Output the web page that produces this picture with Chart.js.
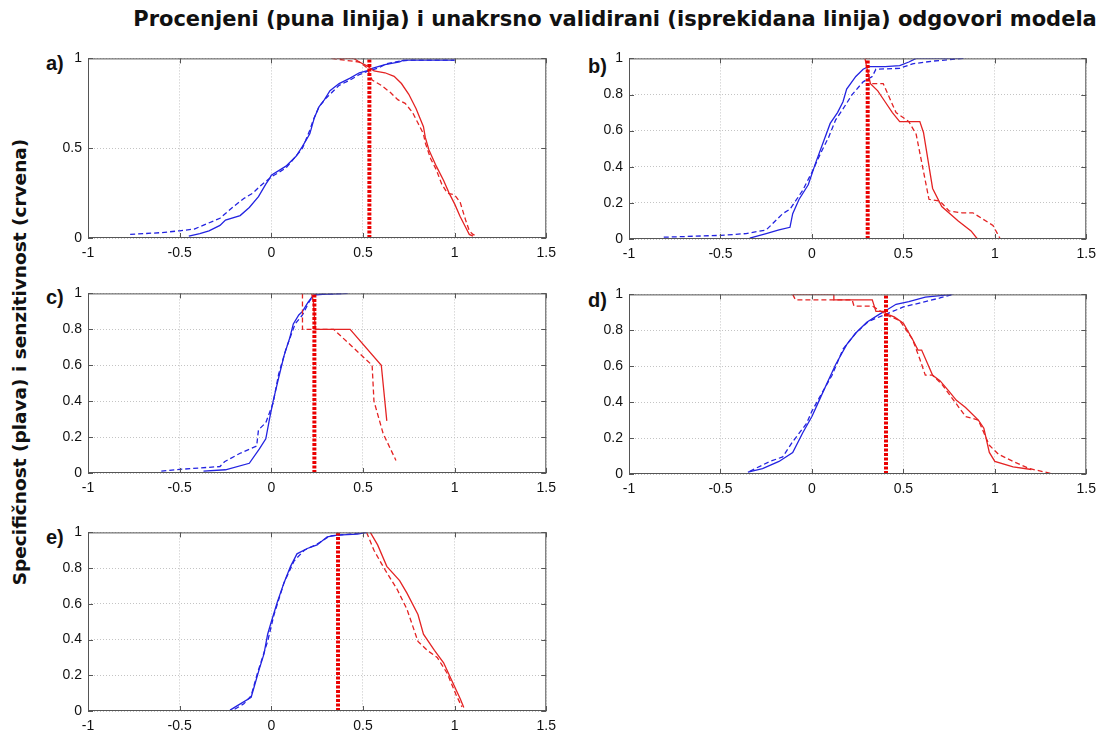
<!DOCTYPE html>
<html>
<head>
<meta charset="utf-8">
<title>Specificnost i senzitivnost</title>
<script src="https://cdn.jsdelivr.net/npm/chart.js@4.4.1/dist/chart.umd.min.js"></script>
<style>
  body { margin: 0; background: #fff; width: 1112px; height: 733px; position: relative; overflow: hidden; }
  .box { position: absolute; }
  .title { position: absolute; left: 0; width: 1230px; top: 7px; text-align: center;
           font: bold 21px "DejaVu Sans", sans-serif; color: #111; }
  .ylab { position: absolute; left: 19px; top: 362px; transform: translate(-50%, -50%) rotate(-90deg);
          white-space: nowrap; font: bold 18.5px "DejaVu Sans", sans-serif; color: #111; }
  .plab { position: absolute; font: bold 20px "Liberation Sans", Arial, sans-serif; color: #111; }
</style>
</head>
<body>
<div class="title">Procenjeni (puna linija) i unakrsno validirani (isprekidana linija) odgovori modela</div>
<div class="ylab">Specifičnost (plava) i senzitivnost (crvena)</div>
<div class="plab" style="left:46px;top:52px">a)</div>
<div class="plab" style="left:588px;top:55px">b)</div>
<div class="plab" style="left:46px;top:286px">c)</div>
<div class="plab" style="left:588px;top:289px">d)</div>
<div class="plab" style="left:46px;top:526px">e)</div>

<script>
// x ticks shared by all panels, y ticks differ for panel a
const xTicks = [-1, -0.5, 0, 0.5, 1, 1.5];
const yTicksA = [0, 0.5, 1];
const yTicks = [0, 0.2, 0.4, 0.6, 0.8, 1];

// a)
const aBlueFit = [[-0.45,0.01],[-0.39,0.025],[-0.34,0.04],[-0.28,0.07],[-0.25,0.1],[-0.17,0.125],[-0.12,0.17],[-0.07,0.23],[-0.03,0.3],[-0.01,0.33],[0.0,0.35],[0.08,0.4],[0.135,0.455],[0.17,0.51],[0.21,0.58],[0.235,0.67],[0.26,0.73],[0.29,0.77],[0.32,0.82],[0.37,0.86],[0.43,0.89],[0.48,0.92],[0.52,0.93],[0.55,0.945],[0.62,0.965],[0.7,0.98],[0.72,0.99],[1.0,0.99]];
const aBlueCv = [[-0.77,0.02],[-0.6,0.03],[-0.5,0.04],[-0.42,0.05],[-0.35,0.08],[-0.28,0.11],[-0.2,0.18],[-0.15,0.22],[-0.1,0.25],[-0.06,0.29],[0.0,0.34],[0.08,0.39],[0.13,0.45],[0.17,0.5],[0.21,0.6],[0.23,0.66],[0.26,0.73],[0.3,0.78],[0.37,0.85],[0.43,0.88],[0.48,0.91],[0.53,0.93],[0.58,0.945],[0.63,0.97],[0.7,0.985],[0.75,0.99],[1.0,0.99]];
const aRedFit = [[0.36,1],[0.45,1],[0.48,0.98],[0.52,0.96],[0.56,0.93],[0.62,0.92],[0.67,0.9],[0.71,0.86],[0.75,0.8],[0.79,0.72],[0.81,0.67],[0.83,0.62],[0.84,0.56],[0.86,0.49],[0.9,0.4],[0.94,0.32],[0.97,0.25],[1.0,0.19],[1.03,0.12],[1.06,0.06],[1.08,0.02],[1.1,0.01]];
const aRedCv = [[0.33,1],[0.4,0.99],[0.48,0.98],[0.52,0.95],[0.55,0.88],[0.6,0.85],[0.65,0.81],[0.69,0.77],[0.73,0.75],[0.77,0.7],[0.8,0.64],[0.83,0.58],[0.84,0.53],[0.87,0.44],[0.9,0.38],[0.93,0.3],[0.96,0.25],[1.0,0.24],[1.03,0.2],[1.06,0.1],[1.08,0.04],[1.1,0.02],[1.12,0.01]];
const aCut = 0.535;

// b)
const bBlueFit = [[-0.34,0.005],[-0.25,0.03],[-0.18,0.05],[-0.12,0.065],[-0.105,0.14],[-0.07,0.22],[-0.02,0.3],[0.02,0.42],[0.06,0.53],[0.1,0.64],[0.14,0.7],[0.17,0.76],[0.19,0.83],[0.24,0.9],[0.28,0.94],[0.31,0.955],[0.4,0.955],[0.48,0.96],[0.53,0.98],[0.57,1.0],[0.83,1.0]];
const bBlueCv = [[-0.81,0.01],[-0.5,0.02],[-0.36,0.03],[-0.25,0.05],[-0.16,0.14],[-0.12,0.165],[-0.05,0.27],[0.0,0.37],[0.05,0.48],[0.09,0.56],[0.13,0.66],[0.17,0.72],[0.22,0.8],[0.28,0.87],[0.33,0.9],[0.35,0.94],[0.48,0.945],[0.55,0.97],[0.66,0.985],[0.83,1.0]];
const bRedFit = [[0.29,1.0],[0.3,0.95],[0.32,0.86],[0.36,0.82],[0.4,0.76],[0.44,0.7],[0.48,0.65],[0.59,0.65],[0.61,0.59],[0.66,0.28],[0.71,0.18],[0.8,0.1],[0.87,0.045],[0.905,0]];
const bRedCv = [[0.33,0.86],[0.39,0.86],[0.46,0.7],[0.53,0.65],[0.57,0.58],[0.64,0.22],[0.7,0.21],[0.75,0.155],[0.82,0.145],[0.88,0.145],[0.99,0.075],[1.03,0.0]];
const bCut = 0.305;

// c)
const cBlueFit = [[-0.37,0.01],[-0.25,0.018],[-0.12,0.054],[-0.065,0.134],[-0.03,0.19],[-0.01,0.3],[0.01,0.4],[0.04,0.53],[0.07,0.655],[0.1,0.75],[0.12,0.83],[0.15,0.88],[0.17,0.9],[0.2,0.95],[0.23,0.99],[0.28,0.995],[0.42,1.0]];
const cBlueCv = [[-0.6,0.01],[-0.5,0.02],[-0.28,0.036],[-0.255,0.063],[-0.17,0.11],[-0.08,0.15],[-0.07,0.24],[-0.03,0.28],[0.01,0.39],[0.04,0.55],[0.08,0.69],[0.13,0.83],[0.17,0.88],[0.21,0.96],[0.24,0.995],[0.41,1.0]];
const cRedFit = [[0.22,1.0],[0.23,0.95],[0.24,0.8],[0.43,0.8],[0.6,0.6],[0.63,0.29]];
const cRedCv = [[0.17,1.0],[0.17,0.8],[0.34,0.8],[0.55,0.6],[0.56,0.4],[0.61,0.22],[0.68,0.07]];
const cCut = 0.235;

// d)
const dBlueFit = [[-0.35,0.01],[-0.27,0.03],[-0.18,0.07],[-0.105,0.12],[-0.05,0.23],[0.0,0.32],[0.04,0.41],[0.08,0.5],[0.13,0.61],[0.19,0.72],[0.24,0.785],[0.3,0.845],[0.37,0.89],[0.405,0.91],[0.46,0.945],[0.53,0.96],[0.62,0.985],[0.77,1.0]];
const dBlueCv = [[-0.34,0.015],[-0.23,0.07],[-0.16,0.095],[-0.105,0.18],[-0.03,0.28],[0.0,0.35],[0.06,0.46],[0.11,0.55],[0.17,0.695],[0.24,0.785],[0.31,0.85],[0.405,0.89],[0.5,0.93],[0.62,0.96],[0.7,0.98],[0.77,1.0]];
const dRedFit = [[-0.105,1.0],[0.12,1.0],[0.12,0.97],[0.33,0.97],[0.35,0.905],[0.395,0.905],[0.41,0.89],[0.45,0.875],[0.5,0.84],[0.55,0.75],[0.58,0.69],[0.6,0.69],[0.66,0.55],[0.7,0.52],[0.75,0.46],[0.79,0.41],[0.84,0.37],[0.91,0.3],[0.94,0.255],[0.97,0.12],[1.0,0.07],[1.1,0.04],[1.2,0.025]];
const dRedCv = [[-0.105,1.0],[-0.09,0.97],[0.22,0.97],[0.23,0.935],[0.33,0.935],[0.37,0.91],[0.42,0.88],[0.48,0.855],[0.55,0.75],[0.59,0.64],[0.62,0.55],[0.66,0.55],[0.71,0.5],[0.79,0.39],[0.84,0.32],[0.91,0.3],[0.97,0.16],[1.02,0.11],[1.1,0.07],[1.19,0.03],[1.32,0.0]];
const dCut = 0.405;

// e)
const eBlueFit = [[-0.225,0.005],[-0.185,0.03],[-0.11,0.077],[-0.095,0.13],[-0.067,0.23],[-0.04,0.32],[-0.02,0.43],[0.0,0.5],[0.033,0.61],[0.07,0.72],[0.105,0.81],[0.14,0.88],[0.196,0.91],[0.25,0.93],[0.305,0.975],[0.36,0.985],[0.47,0.99],[0.52,1.0]];
const eBlueCv = [[-0.2,0.01],[-0.15,0.04],[-0.11,0.086],[-0.076,0.21],[-0.02,0.39],[0.015,0.54],[0.07,0.72],[0.124,0.84],[0.18,0.9],[0.25,0.935],[0.32,0.98],[0.52,1.0]];
const eRedFit = [[0.54,1.0],[0.58,0.93],[0.63,0.81],[0.7,0.73],[0.74,0.66],[0.8,0.54],[0.83,0.43],[0.89,0.34],[0.94,0.27],[0.98,0.18],[1.03,0.07],[1.05,0.02]];
const eRedCv = [[0.52,1.0],[0.56,0.9],[0.615,0.8],[0.687,0.68],[0.74,0.57],[0.8,0.39],[0.85,0.34],[0.905,0.3],[0.96,0.21],[1.01,0.086],[1.04,0.023]];
const eCut = 0.364;

const BLUE = 'rgb(35,35,225)';
const RED = 'rgb(228,35,35)';
const AXW = 45, AXH = 26, PADT = 8, PADR = 16;

// frame + inward tick marks, matlab style
const framePlugin = {
  id: 'frame',
  afterDraw(chart) {
    const {ctx, chartArea: a, scales} = chart;
    ctx.save();
    ctx.strokeStyle = '#555';
    ctx.lineWidth = 1;
    ctx.strokeRect(a.left + 0.5, a.top + 0.5, a.right - a.left - 1, a.bottom - a.top - 1);
    ctx.beginPath();
    scales.x.ticks.forEach(t => {
      const px = Math.round(scales.x.getPixelForValue(t.value)) + 0.5;
      ctx.moveTo(px, a.bottom); ctx.lineTo(px, a.bottom - 5);
      ctx.moveTo(px, a.top); ctx.lineTo(px, a.top + 5);
    });
    scales.y.ticks.forEach(t => {
      const py = Math.round(scales.y.getPixelForValue(t.value)) + 0.5;
      ctx.moveTo(a.left, py); ctx.lineTo(a.left + 5, py);
      ctx.moveTo(a.right, py); ctx.lineTo(a.right - 5, py);
    });
    ctx.stroke();
    ctx.restore();
  }
};

function pts(arr) { return arr.map(p => ({x: p[0], y: p[1]})); }

function curve(arr, color, dashed) {
  return {
    data: pts(arr), borderColor: color, borderWidth: 1.3,
    borderDash: dashed ? [5, 3] : [], pointRadius: 0, showLine: true,
    fill: false, tension: 0, order: 2
  };
}

function panel(left, top, w, h, ticksY, blueFit, blueCv, redFit, redCv, cut) {
  const box = document.createElement('div');
  box.className = 'box';
  const cw = AXW + w + PADR, chh = PADT + h + AXH;
  box.style.left = (left - AXW) + 'px';
  box.style.top = (top - PADT) + 'px';
  const cv = document.createElement('canvas');
  cv.width = cw; cv.height = chh;
  box.appendChild(cv);
  document.body.appendChild(box);

  new Chart(cv.getContext('2d'), {
    type: 'scatter',
    data: {
      datasets: [
        {data: [{x: cut, y: 0}, {x: cut, y: 1}], borderColor: 'rgb(235,0,0)', borderWidth: 4,
         borderDash: [3, 1.5], pointRadius: 0, showLine: true, order: 0},
        curve(redCv, RED, true),
        curve(redFit, RED, false),
        curve(blueCv, BLUE, true),
        curve(blueFit, BLUE, false)
      ]
    },
    options: {
      responsive: false,
      animation: false,
      layout: {padding: {top: PADT, right: PADR, left: 0, bottom: 0}},
      plugins: {legend: {display: false}, tooltip: {enabled: false}},
      scales: {
        x: {
          type: 'linear', min: -1, max: 1.5,
          afterBuildTicks: s => { s.ticks = xTicks.map(v => ({value: v})); },
          afterFit: s => { s.height = AXH; },
          grid: {color: '#c4c4c4', drawTicks: false},
          border: {display: false, dash: [1, 2]},
          ticks: {padding: 7, color: '#111', font: {family: 'Liberation Sans', size: 14},
                  maxRotation: 0, callback: v => String(v)}
        },
        y: {
          type: 'linear', min: 0, max: 1,
          afterBuildTicks: s => { s.ticks = ticksY.map(v => ({value: v})); },
          afterFit: s => { s.width = AXW; },
          grid: {color: '#c4c4c4', drawTicks: false},
          border: {display: false, dash: [1, 2]},
          ticks: {padding: 6, color: '#111', font: {family: 'Liberation Sans', size: 14},
                  callback: v => String(v)}
        }
      }
    },
    plugins: [framePlugin]
  });
}

panel(88, 52, 459, 186, yTicksA, aBlueFit, aBlueCv, aRedFit, aRedCv, aCut);
panel(629, 52, 458, 187, yTicks, bBlueFit, bBlueCv, bRedFit, bRedCv, bCut);
panel(88, 287, 459, 186, yTicks, cBlueFit, cBlueCv, cRedFit, cRedCv, cCut);
panel(629, 288, 458, 186, yTicks, dBlueFit, dBlueCv, dRedFit, dRedCv, dCut);
panel(88, 526, 459, 185, yTicks, eBlueFit, eBlueCv, eRedFit, eRedCv, eCut);
</script>
</body>
</html>
